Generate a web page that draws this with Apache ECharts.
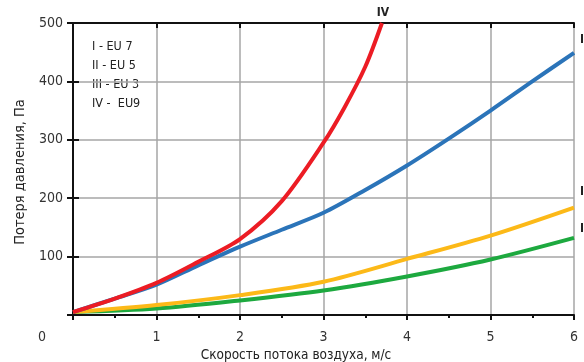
<!DOCTYPE html>
<html>
<head>
<meta charset="utf-8">
<script src="https://cdn.jsdelivr.net/npm/echarts@6/dist/echarts.min.js"></script>
<style>
  html, body { margin: 0; padding: 0; background: #fff; }
  #chart { width: 584px; height: 362px; }
</style>
</head>
<body>
<div id="chart"></div>
<script>
// Pressure loss vs. air flow speed for filter classes
const speedTicks = [0, 1, 2, 3, 4, 5, 6];
const pressureTicks = [0, 100, 200, 300, 400, 500];

// [speed m/s, pressure Pa]
const eu9 = [[0, 5], [0.5, 28], [1, 55], [1.5, 91], [2, 130], [2.5, 195], [3, 295], [3.25, 355], [3.5, 425], [3.7, 500]];
const eu7 = [[0, 5], [0.5, 28], [1, 52], [1.5, 85], [2, 117], [2.5, 146], [3, 175], [3.5, 214], [4, 256], [4.5, 302], [5, 350], [5.5, 400], [6, 449]];
const eu5 = [[0, 5], [1, 17], [2, 34], [3, 57], [4, 96], [5, 136], [6, 184]];
const eu3 = [[0, 5], [1, 11], [2, 25], [3, 42], [4, 66], [5, 95], [6, 132]];

const legendLines = ['I - EU 7', 'II - EU 5', 'III - EU 3', 'IV -  EU9'];
const xTitle = 'Скорость потока воздуха, м/с';
const yTitle = 'Потеря давления, Па';

const FONT = '"Liberation Sans Narrow", "DejaVu Sans Condensed", sans-serif';
const AXIS = '#111';
const GRID = '#a6a6a6';

const chart = echarts.init(document.getElementById('chart'), null, { renderer: 'canvas' });

const baseX = {
  type: 'value', min: speedTicks[0], max: speedTicks[speedTicks.length - 1], interval: 1,
  axisLine: { show: true, onZero: false, lineStyle: { color: AXIS, width: 2 } }
};
const baseY = {
  type: 'value', min: pressureTicks[0], max: pressureTicks[pressureTicks.length - 1], interval: 100,
  axisLine: { show: true, onZero: false, lineStyle: { color: AXIS, width: 2 } }
};

function line(data, color) {
  return {
    type: 'line', data: data, smooth: 0.3, symbol: 'none',
    xAxisIndex: 0, yAxisIndex: 0,
    lineStyle: { color: color, width: 4 }, z: 3
  };
}

chart.setOption({
  animation: false,
  backgroundColor: '#fff',
  grid: { left: 73, right: 10, top: 23, bottom: 47 },
  xAxis: [
    Object.assign({}, baseX, {
      axisTick: { show: true, inside: false, length: 5, lineStyle: { color: AXIS, width: 2 } },
      minorTick: { show: true, splitNumber: 2, length: 3, lineStyle: { color: AXIS, width: 2 } },
      splitLine: { show: true, lineStyle: { color: GRID, width: 1.5 } },
      axisLabel: {
        margin: 15, color: '#333', fontSize: 14, fontFamily: FONT,
        formatter: v => (v === 0 ? '' : String(v))
      }
    }),
    Object.assign({}, baseX, {
      axisTick: { show: true, inside: true, length: 5, lineStyle: { color: AXIS, width: 2 } },
      splitLine: { show: false }, axisLabel: { show: false }
    })
  ],
  yAxis: [
    Object.assign({}, baseY, {
      axisTick: { show: true, inside: false, length: 6, lineStyle: { color: AXIS, width: 2 } },
      splitLine: { show: true, lineStyle: { color: GRID, width: 1.5 } },
      axisLabel: {
        margin: 10, color: '#333', fontSize: 14, fontFamily: FONT,
        formatter: v => (v === 0 ? '' : String(v))
      }
    }),
    Object.assign({}, baseY, {
      position: 'left',
      axisTick: { show: true, inside: true, length: 6, lineStyle: { color: AXIS, width: 2 } },
      splitLine: { show: false }, axisLabel: { show: false }
    })
  ],
  series: [
    line(eu3, '#1da93f'),
    line(eu5, '#fcb918'),
    line(eu7, '#2b74b9'),
    line(eu9, '#ec1c24')
  ],
  graphic: [
    { type: 'text', x: 42, y: 337, style: { text: '0', fill: '#333', font: '14px ' + FONT, align: 'center', verticalAlign: 'middle' } },
    { type: 'text', x: 296, y: 355, style: { text: xTitle, fill: '#222', font: '13.5px ' + FONT, align: 'center', verticalAlign: 'middle' } },
    { type: 'text', x: 20, y: 172, rotation: Math.PI / 2, style: { text: yTitle, fill: '#222', font: '14.5px ' + FONT, align: 'center', verticalAlign: 'middle' } },
    { type: 'text', x: 92, y: 47, style: { text: legendLines[0], fill: '#222', font: '12.5px ' + FONT, verticalAlign: 'middle' } },
    { type: 'text', x: 92, y: 66, style: { text: legendLines[1], fill: '#222', font: '12.5px ' + FONT, verticalAlign: 'middle' } },
    { type: 'text', x: 92, y: 85, style: { text: legendLines[2], fill: '#222', font: '12.5px ' + FONT, verticalAlign: 'middle' } },
    { type: 'text', x: 92, y: 104, style: { text: legendLines[3], fill: '#222', font: '12.5px ' + FONT, verticalAlign: 'middle' } },
    { type: 'text', x: 383, y: 13, style: { text: 'IV', fill: '#222', font: 'bold 12px ' + FONT, align: 'center', verticalAlign: 'middle' } },
    { type: 'text', x: 580, y: 40, style: { text: 'I', fill: '#222', font: 'bold 12px ' + FONT, verticalAlign: 'middle' } },
    { type: 'text', x: 580, y: 192, style: { text: 'II', fill: '#222', font: 'bold 12px ' + FONT, verticalAlign: 'middle' } },
    { type: 'text', x: 580, y: 229, style: { text: 'III', fill: '#222', font: 'bold 12px ' + FONT, verticalAlign: 'middle' } }
  ]
});
</script>
</body>
</html>
